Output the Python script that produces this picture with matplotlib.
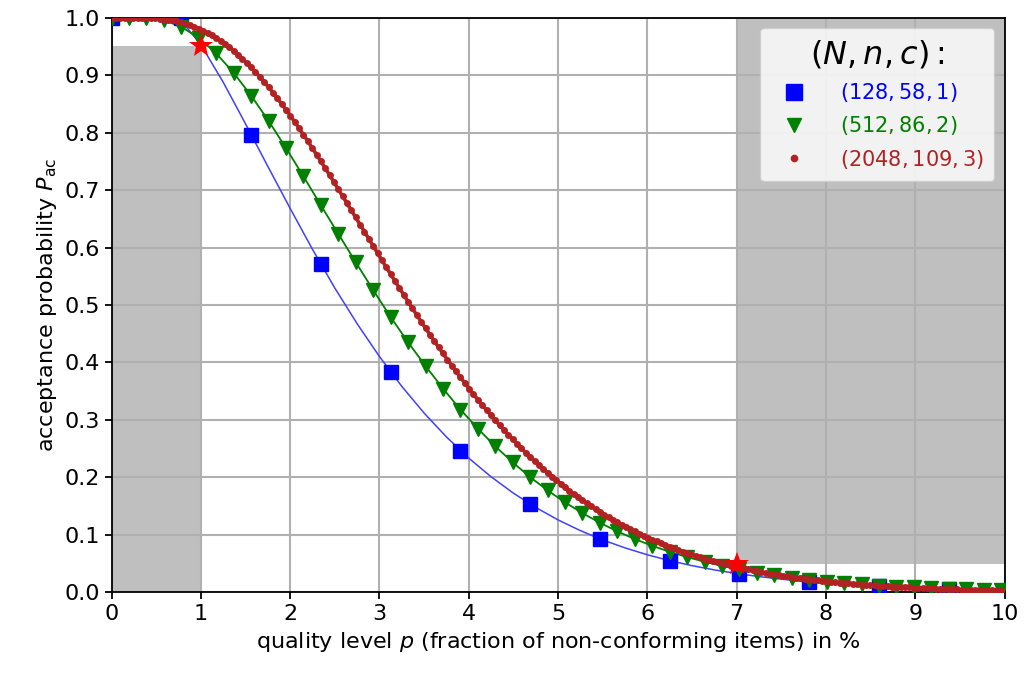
# OC curves of three single sampling plans (hypergeometric model)
import matplotlib
matplotlib.use('Agg')
import matplotlib.pyplot as plt
from matplotlib.patches import Rectangle

# plan (N, n, c) = (128, 58, 1): one square per defect count D = 0..12
bluePac = [1.0, 1.0, 0.7966, 0.5707, 0.3836, 0.2468, 0.1536, 0.0931, 0.0552,
           0.0321, 0.0184, 0.0103, 0.0057]
# the thin blue curve, read every 0.25 % of p
blueLinePac = [1.0, 1.0, 1.0, 1.0, 0.9528, 0.8875, 0.8151, 0.7410, 0.6679,
               0.5967, 0.5294, 0.4673, 0.4102, 0.3584, 0.3119, 0.2704, 0.2335,
               0.2011, 0.1726, 0.1477, 0.1261, 0.1074, 0.0912, 0.0774, 0.0654,
               0.0552, 0.0465, 0.0391, 0.0329, 0.0275, 0.0230, 0.0192, 0.0160,
               0.0134, 0.0111, 0.0092, 0.0076, 0.0063, 0.0052, 0.0043, 0.0036]

# plan (512, 86, 2): D = 0..51
greenPac = [1.0000, 1.0000, 1.0000, 0.9954, 0.9839, 0.9645, 0.9376, 0.9038,
            0.8643, 0.8203, 0.7730, 0.7237, 0.6734, 0.6237, 0.5743, 0.5259,
            0.4790, 0.4352, 0.3938, 0.3547, 0.3181, 0.2849, 0.2542, 0.2261,
            0.2005, 0.1774, 0.1566, 0.1378, 0.1211, 0.1061, 0.0928, 0.0810,
            0.0706, 0.0614, 0.0533, 0.0462, 0.0400, 0.0345, 0.0298, 0.0256,
            0.0221, 0.0189, 0.0162, 0.0139, 0.0119, 0.0102, 0.0087, 0.0074,
            0.0063, 0.0053, 0.0045, 0.0038]

# plan (2048, 109, 3): D = 0..204
redPac = [1.0000, 1.0000, 1.0000, 1.0000, 1.0000, 1.0000, 0.9999, 0.9998, 0.9996, 0.9992,
          0.9988, 0.9982, 0.9973, 0.9962, 0.9950, 0.9934, 0.9916, 0.9894, 0.9870, 0.9842,
          0.9810, 0.9775, 0.9736, 0.9693, 0.9646, 0.9596, 0.9541, 0.9483, 0.9421, 0.9355,
          0.9285, 0.9211, 0.9133, 0.9053, 0.8968, 0.8881, 0.8790, 0.8696, 0.8599, 0.8499,
          0.8397, 0.8292, 0.8184, 0.8075, 0.7963, 0.7850, 0.7734, 0.7618, 0.7500, 0.7380,
          0.7260, 0.7138, 0.7015, 0.6893, 0.6770, 0.6646, 0.6523, 0.6399, 0.6274, 0.6150,
          0.6025, 0.5901, 0.5778, 0.5656, 0.5535, 0.5414, 0.5295, 0.5176, 0.5057, 0.4940,
          0.4823, 0.4708, 0.4595, 0.4483, 0.4373, 0.4264, 0.4157, 0.4051, 0.3946, 0.3843,
          0.3741, 0.3642, 0.3544, 0.3448, 0.3354, 0.3261, 0.3170, 0.3081, 0.2993, 0.2907,
          0.2823, 0.2741, 0.2661, 0.2582, 0.2505, 0.2430, 0.2357, 0.2285, 0.2215, 0.2146,
          0.2079, 0.2015, 0.1951, 0.1889, 0.1829, 0.1770, 0.1713, 0.1657, 0.1603, 0.1551,
          0.1499, 0.1450, 0.1401, 0.1354, 0.1308, 0.1264, 0.1221, 0.1179, 0.1138, 0.1099,
          0.1061, 0.1024, 0.0988, 0.0953, 0.0919, 0.0886, 0.0854, 0.0824, 0.0794, 0.0765,
          0.0738, 0.0711, 0.0685, 0.0659, 0.0635, 0.0611, 0.0588, 0.0566, 0.0545, 0.0525,
          0.0505, 0.0486, 0.0467, 0.0450, 0.0432, 0.0416, 0.0399, 0.0384, 0.0369, 0.0355,
          0.0341, 0.0328, 0.0315, 0.0302, 0.0290, 0.0279, 0.0267, 0.0257, 0.0246, 0.0237,
          0.0227, 0.0218, 0.0209, 0.0201, 0.0192, 0.0185, 0.0177, 0.0170, 0.0163, 0.0156,
          0.0150, 0.0143, 0.0137, 0.0132, 0.0126, 0.0121, 0.0116, 0.0111, 0.0106, 0.0102,
          0.0097, 0.0093, 0.0089, 0.0085, 0.0082, 0.0078, 0.0075, 0.0072, 0.0068, 0.0066,
          0.0063, 0.0060, 0.0057, 0.0055, 0.0052, 0.0050, 0.0048, 0.0046, 0.0044, 0.0042,
          0.0040, 0.0038, 0.0037, 0.0035, 0.0033]

planLabels = ['$(128, 58, 1)$', '$(512, 86, 2)$', '$(2048, 109, 3)$']
lotSizes = [128, 512, 2048]

# producer point (AQL) and consumer point (LQ)
specP = [1, 7]
specPac = [0.95, 0.05]

# quality level in % for every defect count D = 0, 1, 2, ...
blueP = [100 * d / lotSizes[0] for d in range(len(bluePac))]
greenP = [100 * d / lotSizes[1] for d in range(len(greenPac))]
redP = [100 * d / lotSizes[2] for d in range(len(redPac))]
blueLineP = [0.25 * i for i in range(len(blueLinePac))]

fig = plt.figure(figsize=(10.24, 6.77), dpi=100)
ax = fig.add_axes([0.109, 0.125, 0.872, 0.849])

# forbidden regions
ax.add_patch(Rectangle((0, 0), specP[0], specPac[0], facecolor='#bfbfbf', edgecolor='none', zorder=1))
ax.add_patch(Rectangle((specP[1], specPac[1]), 10 - specP[1], 1 - specPac[1],
                       facecolor='#bfbfbf', edgecolor='none', zorder=1))

ax.plot(blueLineP, blueLinePac, '-', color='#4040ff', lw=1.1, zorder=2)
ax.plot(blueP, bluePac, 's', color='blue', ms=10, label=planLabels[0], zorder=3)

ax.plot(greenP, greenPac, '-', color='green', lw=1.3, zorder=2)
ax.plot(greenP, greenPac, 'v', color='green', ms=9.5, label=planLabels[1], zorder=3)

ax.plot(redP, redPac, '-', color='firebrick', lw=2.6, zorder=4)
ax.plot(redP, redPac, 'o', color='firebrick', ms=5, mew=0, label=planLabels[2], zorder=4)

ax.plot(specP, specPac, '*', color='red', ms=18, mew=0, zorder=6, clip_on=False)

ax.set_xlim(0, 10)
ax.set_ylim(0, 1)
ax.set_xticks(range(0, 11))
ax.set_yticks([i / 10 for i in range(11)])
ax.set_yticklabels(['%.1f' % (i / 10) for i in range(11)])
ax.grid(True, color='#b0b0b0', lw=1.5)
ax.tick_params(labelsize=16, length=5, width=1.3)
for s in ax.spines.values():
    s.set_linewidth(1.3)

ax.set_xlabel('quality level $p$ (fraction of non-conforming items) in %', fontsize=16)
ax.set_ylabel('acceptance probability $P_\\mathrm{ac}$', fontsize=16)

leg = ax.legend(loc='upper right', fontsize=15, title='$(N, n, c):$', title_fontsize=23,
                borderaxespad=0.5, borderpad=0.5, labelspacing=0.5, handletextpad=1.1,
                handlelength=2.2, markerscale=1.1)
for txt, col in zip(leg.get_texts(), ['blue', 'green', 'firebrick']):
    txt.set_color(col)

fig.savefig('out.png', dpi=100)
